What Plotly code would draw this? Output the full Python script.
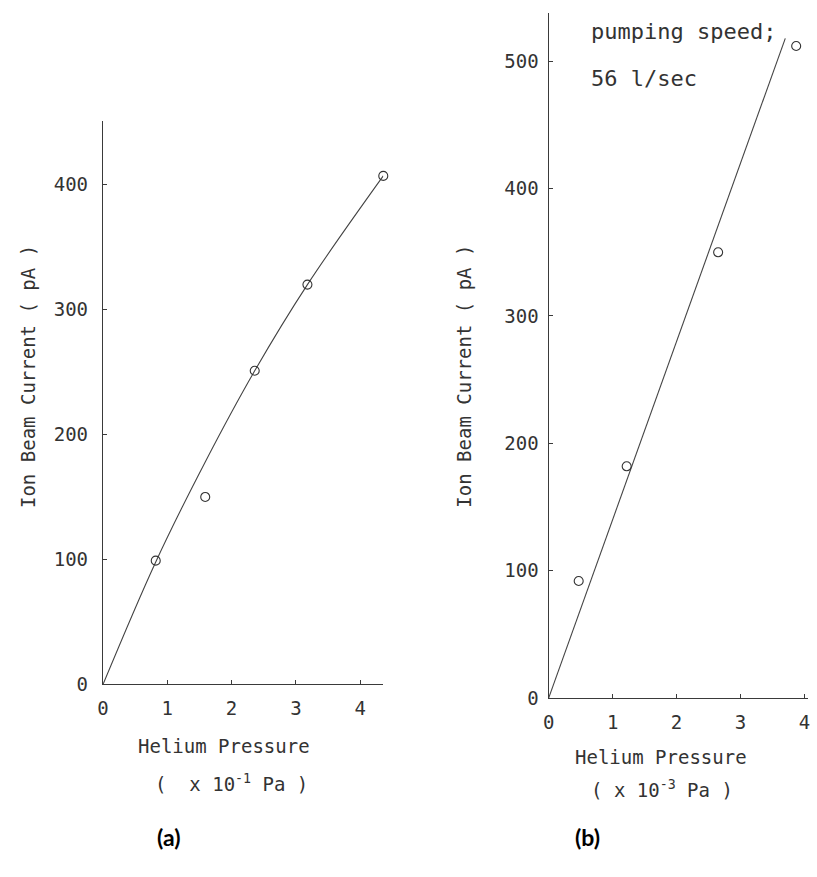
import plotly.graph_objects as go

W, H = 817, 877

# ---------------- data ----------------
# Panel (a): helium pressure (x 10^-1 Pa) vs ion beam current (pA)
pts_a_x = [0.82, 1.59, 2.36, 3.18, 4.36]
pts_a_y = [99, 150, 251, 320, 407]
curve_a_x = [0, 0.82, 1.59, 2.36, 3.18, 4.36]
curve_a_y = [0, 98, 178, 251, 320, 407]

# Panel (b): helium pressure (x 10^-3 Pa) vs ion beam current (pA)
pts_b_x = [0.47, 1.22, 2.65, 3.87]
pts_b_y = [92, 182, 350, 512]
line_b_x = [0, 3.70]
line_b_y = [0, 518]

x_ticks = [0, 1, 2, 3, 4]
y_ticks_a = [0, 100, 200, 300, 400]
y_ticks_b = [0, 100, 200, 300, 400, 500]

INK = "#333333"
MONO = "DejaVu Sans Mono"


def px(x):
    return x / W


def py(y):
    return 1 - y / H


fig = go.Figure()

fig.add_trace(go.Scatter(x=curve_a_x, y=curve_a_y, mode="lines",
                         line=dict(color="#444", width=1.1, shape="spline"),
                         xaxis="x", yaxis="y", hoverinfo="skip"))
fig.add_trace(go.Scatter(x=pts_a_x, y=pts_a_y, mode="markers",
                         marker=dict(symbol="circle-open", size=9,
                                     color="#333", line=dict(width=1.1)),
                         cliponaxis=False, xaxis="x", yaxis="y"))
fig.add_trace(go.Scatter(x=line_b_x, y=line_b_y, mode="lines",
                         line=dict(color="#444", width=1.1),
                         xaxis="x2", yaxis="y2", hoverinfo="skip"))
fig.add_trace(go.Scatter(x=pts_b_x, y=pts_b_y, mode="markers",
                         marker=dict(symbol="circle-open", size=9,
                                     color="#333", line=dict(width=1.1)),
                         cliponaxis=False, xaxis="x2", yaxis="y2"))

axis_common = dict(showgrid=False, zeroline=False, showline=True,
                   linecolor="#3a3a3a", linewidth=1.4, ticks="inside",
                   ticklen=4, tickcolor="#3a3a3a", tickwidth=1.2,
                   tickfont=dict(family=MONO, size=19, color=INK),
                   ticklabeloverflow="allow", fixedrange=True)

fig.update_layout(
    width=W, height=H,
    margin=dict(l=0, r=0, t=0, b=0),
    paper_bgcolor="white", plot_bgcolor="white",
    showlegend=False,
    xaxis=dict(domain=[px(98), px(381)], range=[0, 4.36], anchor="y",
               tickvals=x_ticks, ticklabelstandoff=7, **axis_common),
    yaxis=dict(domain=[py(693), py(123)], range=[0, 450.6], anchor="x",
               tickvals=y_ticks_a, ticklabelstandoff=10, **axis_common),
    xaxis2=dict(domain=[px(548), px(810)], range=[0, 4.056], anchor="y2",
                tickvals=x_ticks, ticklabelstandoff=7, **axis_common),
    yaxis2=dict(domain=[py(707), py(13)], range=[0, 538], anchor="x2",
                tickvals=y_ticks_b, ticklabelstandoff=5, **axis_common),
)

ann_font = dict(family=MONO, size=19, color=INK)
annotations = [
    dict(text="Ion Beam Current ( pA )", x=px(22), y=py(381), textangle=-90,
         font=ann_font),
    dict(text="Ion Beam Current ( pA )", x=px(463), y=py(381), textangle=-90,
         font=ann_font),
    dict(text="Helium Pressure", x=px(220), y=py(755), font=ann_font),
    dict(text="(  x 10<sup>-1</sup> Pa )", x=px(228), y=py(793), font=ann_font),
    dict(text="Helium Pressure", x=px(661), y=py(767), font=ann_font),
    dict(text="( x 10<sup>-3</sup> Pa )", x=px(662), y=py(799), font=ann_font),
    dict(text="pumping speed;", x=px(589), y=py(32), xanchor="left",
         font=dict(family=MONO, size=22, color=INK)),
    dict(text="56 l/sec", x=px(589), y=py(80), xanchor="left",
         font=dict(family=MONO, size=22, color=INK)),
    dict(text="<b>(a)</b>", x=px(164), y=py(848),
         font=dict(family="Lato", size=23, color="black")),
    dict(text="<b>(b)</b>", x=px(587), y=py(848),
         font=dict(family="Lato", size=23, color="black")),
]
for a in annotations:
    a.setdefault("xref", "paper")
    a.setdefault("yref", "paper")
    a.setdefault("showarrow", False)
    a.setdefault("xanchor", "center")
    a.setdefault("yanchor", "middle")
fig.update_layout(annotations=annotations)

fig.write_html("out.html",
               config={"displayModeBar": False},
               post_script="document.body.style.margin='0';")
